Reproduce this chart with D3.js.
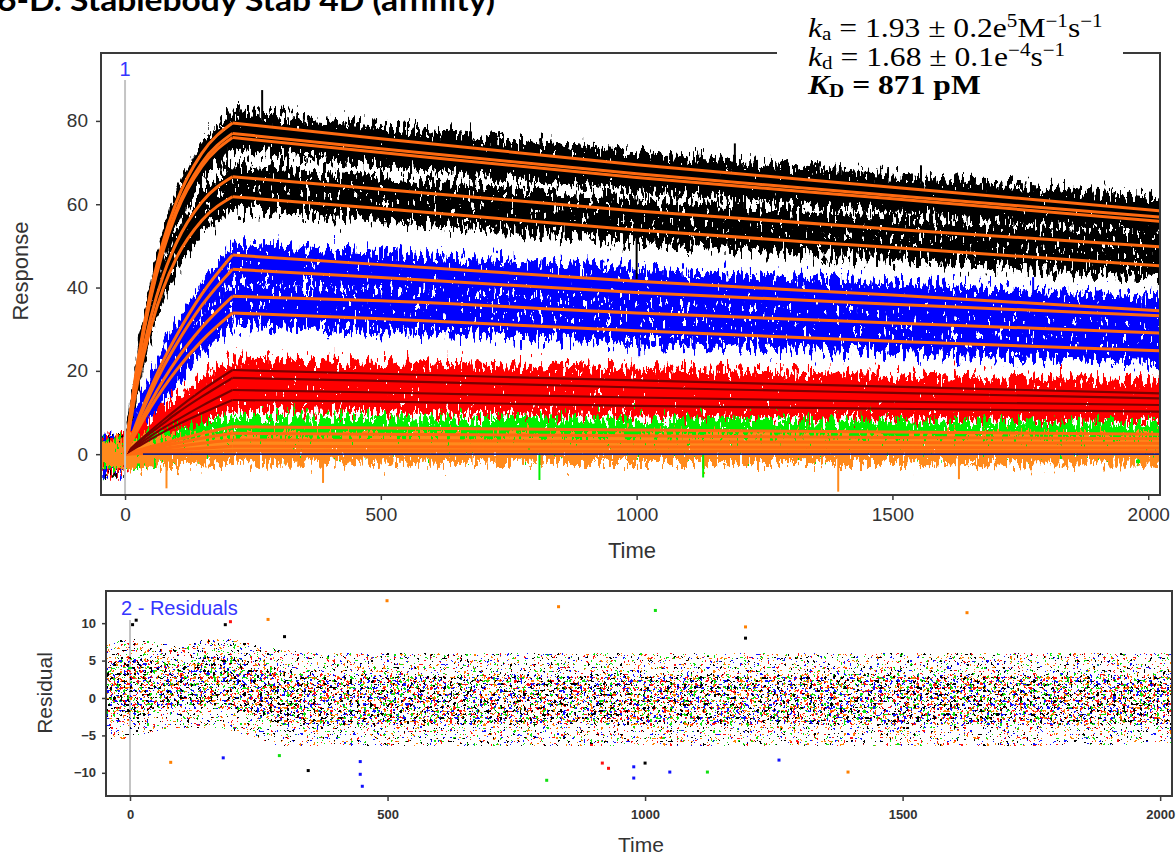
<!DOCTYPE html>
<html lang="en">
<head>
<meta charset="utf-8">
<title>Stab 4D affinity</title>
<script src="https://cdn.jsdelivr.net/npm/d3@7"></script>
<style>
  body { margin: 0; background: #fff; }
  svg { display: block; }
</style>
</head>
<body>
<script>

// page size
var w = 1176;
var h = 861;

// fitted curves, read at these times (association ends at 210 s)
var fitTimes = [0, 25, 50, 75, 100, 150, 210, 500, 1000, 1500, 2023];

var blackFits = [
  [0, 22.4, 39.0, 51.3, 60.4, 72.2, 79.5, 75.7, 69.5, 64.1, 58.4],
  [0, 21.7, 37.8, 49.7, 58.5, 69.9, 77.0, 73.3, 67.3, 62.1, 56.9],
  [0, 21.4, 37.3, 49.0, 57.8, 69.0, 76.0, 72.4, 66.4, 61.3, 55.9],
  [0, 18.8, 32.7, 43.0, 50.6, 60.5, 66.6, 63.6, 58.4, 54.0, 49.8],
  [0, 17.4, 30.3, 39.9, 47.0, 56.1, 61.8, 59.0, 53.8, 49.6, 45.2]
];
var blueFits = [
  [0, 8.3, 15.8, 22.5, 28.3, 38.4, 47.8, 45.5, 41.5, 38.2, 34.4],
  [0, 7.7, 14.7, 20.9, 26.3, 35.7, 44.4, 42.4, 38.8, 36.0, 33.2],
  [0, 6.6, 12.5, 17.8, 22.5, 30.4, 37.9, 36.8, 33.9, 31.5, 29.1],
  [0, 5.9, 11.2, 15.9, 20.1, 27.2, 33.9, 32.5, 29.6, 27.1, 24.8]
];
var redFits = [
  [0, 2.9, 5.6, 8.2, 10.7, 15.3, 20.2, 19.3, 17.7, 16.2, 14.6],
  [0, 2.6, 5.1, 7.4, 9.7, 13.8, 18.3, 17.6, 16.0, 14.7, 13.4],
  [0, 2.2, 4.3, 6.3, 8.1, 11.6, 15.4, 14.8, 13.6, 12.6, 11.8],
  [0, 1.8, 3.6, 5.3, 6.9, 9.8, 13.0, 12.6, 11.6, 10.9, 10.2]
];
var greenFits = [
  [0, 0.9, 1.8, 2.6, 3.4, 5.0, 6.6, 6.3, 5.8, 5.3, 4.8],
  [0, 0.7, 1.4, 2.0, 2.6, 3.8, 5.0, 4.8, 4.4, 4.0, 3.7],
  [0, 0.5, 0.9, 1.4, 1.8, 2.6, 3.4, 3.3, 3.0, 2.8, 2.6]
];
var orangeFits = [
  [0, 0.3, 0.5, 0.8, 1.0, 1.4, 1.9, 1.8, 1.7, 1.6, 1.5],
  [0, 0.1, 0.2, 0.3, 0.4, 0.6, 0.8, 0.8, 0.7, 0.7, 0.6]
];

// concentrations in drawing order, with the noise half width of each (response units)
var groupNames = ["black", "blue", "red", "green", "orange"];
var groupNoise = [3.0, 3.0, 2.8, 2.4, 2.6];

// single spikes in the sensorgram: time, low, high, concentration
var dataSpikes = [
  [268, 80, 87.4, "black"], [1000, 42, 52, "black"], [1192, 68, 74.6, "black"],
  [1005, 23.5, 30, "blue"], [1775, 36, 42.5, "blue"],
  [81, -8.2, 0, "orange"], [387, -6.9, 0, "orange"], [1394, -9, 0, "orange"],
  [1630, -6, 0, "orange"], [810, -6.2, 0, "green"], [1130, -5.6, 0, "green"]
];

// flat blank line
var blankTimes = [35, 2023];
var blankValues = [0, 0];

// residual cloud: dense core and sparse outer envelope
var resTimes = [-47, 0, 50, 100, 150, 200, 250, 300, 400, 600, 1000, 1400, 1800, 2023];
var resCoreUpper = [4, 5.5, 5, 4.5, 5.5, 5.5, 4.5, 3.5, 3, 3, 3, 3, 3, 3];
var resCoreLower = [-2.5, -2.5, -1.5, -1, -1, -1.5, -2.5, -3.5, -3.5, -3.5, -3.5, -3.5, -3.5, -3.5];
var resUpper = [7, 8, 7.5, 7, 8, 8, 7, 6.5, 6, 6, 6, 6, 6, 6];
var resLower = [-5.5, -5.5, -4.5, -4, -4, -4.5, -5.5, -6.5, -6.5, -6.5, -6.5, -6.5, -6.5, -6];

// residual outliers: time, residual, concentration
var resOutliers = [
  [499, 13, "orange"], [832, 12.2, "orange"], [1020, 11.7, "green"], [1625, 11.4, "orange"],
  [5, 9.8, "black"], [12, 10.4, "black"], [185, 9.8, "black"], [195, 10.2, "red"],
  [268, 10.5, "orange"], [300, 8.2, "black"], [1195, 9.5, "orange"], [1195, 8, "black"],
  [451, -11.8, "blue"], [447, -10.2, "blue"], [447, -8.5, "blue"], [346, -9.7, "black"],
  [809, -11, "green"], [917, -8.7, "red"], [929, -9.4, "red"], [978, -10.7, "blue"],
  [978, -9.2, "blue"], [1000, -8.7, "black"], [1048, -9.9, "blue"], [1121, -9.9, "green"],
  [1394, -9.9, "orange"], [1260, -8.3, "blue"], [79, -8.6, "orange"], [181, -8, "blue"],
  [290, -7.7, "green"]
];

// tick labels
var timeTicks = [0, 500, 1000, 1500, 2000];
var responseTicks = [0, 20, 40, 60, 80];
var residualTicks = [-10, -5, 0, 5, 10];

var fitsByGroup = { black: blackFits, blue: blueFits, red: redFits, green: greenFits, orange: orangeFits };

var dataColors = { black: "#000000", blue: "#0000ff", red: "#ff0000", green: "#00f000", orange: "#ff8a1c" };
var fitColors = { black: "#ff6a10", blue: "#ff6a10", red: "#7a0000", green: "#ff6a10", orange: "#ff6a10" };
var resColors = { black: "#000000", blue: "#1010ff", red: "#ff1010", green: "#10e010", orange: "#ff8000" };

// scales
var xTop = d3.scaleLinear().domain([-47, 2023]).range([101, 1160]);
var yTop = d3.scaleLinear().domain([-9.8, 96.3]).range([495, 53]);
var xRes = d3.scaleLinear().domain([-46.6, 2023]).range([106, 1172]);
var yRes = d3.scaleLinear().domain([-13.1, 14.3]).range([796, 591]);

var svg = d3.select("body")
  .append("svg")
  .attr("width", w)
  .attr("height", h)
  .style("font-family", "'Liberation Sans', Arial, sans-serif");

var defs = svg.append("defs");

defs.append("clipPath").attr("id", "clipTop")
  .append("rect").attr("x", 102).attr("y", 54).attr("width", 1057).attr("height", 440);
defs.append("clipPath").attr("id", "clipRes")
  .append("rect").attr("x", 107).attr("y", 592).attr("width", 1064).attr("height", 203);

// jagged edges and small holes for the noisy traces
function jagFilter(id, seed) {
  var f = defs.append("filter").attr("id", id)
    .attr("filterUnits", "userSpaceOnUse")
    .attr("x", 90).attr("y", 30).attr("width", 1090).attr("height", 480)
    .attr("color-interpolation-filters", "sRGB");
  f.append("feTurbulence").attr("type", "fractalNoise")
    .attr("baseFrequency", "0.3 0.07").attr("numOctaves", 2)
    .attr("seed", seed).attr("result", "t");
  f.append("feColorMatrix").attr("in", "t").attr("type", "matrix")
    .attr("values", "0 0 0 0 0.5  1 0 0 0 0  0 0 0 0 0  0 0 0 0 1")
    .attr("result", "d");
  f.append("feDisplacementMap").attr("in", "SourceGraphic").attr("in2", "d")
    .attr("scale", 42).attr("xChannelSelector", "R").attr("yChannelSelector", "G")
    .attr("result", "disp");
  f.append("feTurbulence").attr("type", "fractalNoise")
    .attr("baseFrequency", "0.35 0.12").attr("numOctaves", 1)
    .attr("seed", seed + 101).attr("result", "t2");
  f.append("feColorMatrix").attr("in", "t2").attr("type", "matrix")
    .attr("values", "0 0 0 0 0  0 0 0 0 0  0 0 0 0 0  6 0 0 0 -3.6")
    .attr("result", "h0");
  f.append("feComponentTransfer").attr("in", "h0").attr("result", "holes")
    .append("feFuncA").attr("type", "discrete").attr("tableValues", "0 1");
  f.append("feComposite").attr("in", "disp").attr("in2", "holes").attr("operator", "out");
}

// speckled dots for the residual cloud (density follows the fill opacity)
function speckFilter(id, seed, color) {
  var f = defs.append("filter").attr("id", id)
    .attr("filterUnits", "userSpaceOnUse")
    .attr("x", 100).attr("y", 585).attr("width", 1080).attr("height", 220)
    .attr("color-interpolation-filters", "sRGB");
  f.append("feTurbulence").attr("type", "fractalNoise")
    .attr("baseFrequency", "0.3").attr("numOctaves", 2)
    .attr("seed", seed).attr("result", "t");
  f.append("feColorMatrix").attr("in", "t").attr("type", "matrix")
    .attr("values", "0 0 0 0 0  0 0 0 0 0  0 0 0 0 0  1.5 0 0 0 -0.13")
    .attr("result", "ta");
  f.append("feComposite").attr("in", "ta").attr("in2", "SourceAlpha")
    .attr("operator", "arithmetic").attr("k1", 1).attr("k2", 0).attr("k3", 0).attr("k4", 0)
    .attr("result", "p");
  f.append("feComponentTransfer").attr("in", "p").attr("result", "m")
    .append("feFuncA").attr("type", "discrete").attr("tableValues", "0 0 0 0 0 0 1");
  f.append("feFlood").attr("flood-color", color).attr("result", "c");
  f.append("feComposite").attr("in", "c").attr("in2", "m").attr("operator", "in");
}

// ---------- top panel: sensorgram ----------

var topPlot = svg.append("g").attr("clip-path", "url(#clipTop)");

var seed = 1;
groupNames.forEach(function(g, gi) {
  var hw = groupNoise[gi];
  fitsByGroup[g].forEach(function(fit) {
    var pts = [[-47, 0]].concat(fitTimes.map(function(t, i) { return [t, fit[i]]; }));
    var id = "jag" + seed;
    jagFilter(id, seed * 7 + 3);
    seed++;
    topPlot.append("path")
      .datum(pts)
      .attr("fill", dataColors[g])
      .attr("filter", "url(#" + id + ")")
      .attr("d", d3.area()
        .x(function(d) { return xTop(d[0]); })
        .y0(function(d) { return yTop(d[1] - hw); })
        .y1(function(d) { return yTop(d[1] + hw); }));
  });
});

topPlot.selectAll("line.spike")
  .data(dataSpikes)
  .enter()
  .append("line")
  .attr("class", "spike")
  .attr("x1", function(d) { return xTop(d[0]); })
  .attr("x2", function(d) { return xTop(d[0]); })
  .attr("y1", function(d) { return yTop(d[1]); })
  .attr("y2", function(d) { return yTop(d[2]); })
  .attr("stroke", function(d) { return dataColors[d[3]]; })
  .attr("stroke-width", 2);

var fitLine = d3.line()
  .x(function(d) { return xTop(d[0]); })
  .y(function(d) { return yTop(d[1]); })
  .curve(d3.curveMonotoneX);

groupNames.slice().reverse().forEach(function(g) {
  fitsByGroup[g].forEach(function(fit) {
    var pts = fitTimes.map(function(t, i) { return [t, fit[i]]; });
    [pts.slice(0, 7), pts.slice(6)].forEach(function(part) {
      topPlot.append("path")
        .datum(part)
        .attr("fill", "none")
        .attr("stroke", fitColors[g])
        .attr("stroke-width", g === "red" ? 2.2 : 3)
        .attr("d", fitLine);
    });
  });
});

topPlot.append("path")
  .datum(blankTimes.map(function(t, i) { return [t, blankValues[i]]; }))
  .attr("fill", "none")
  .attr("stroke", "#1c1c7a")
  .attr("stroke-width", 1.6)
  .attr("d", d3.line().x(function(d) { return xTop(d[0]); }).y(function(d) { return yTop(d[1]); }));

// injection marker
svg.append("line")
  .attr("x1", xTop(0)).attr("x2", xTop(0))
  .attr("y1", 80).attr("y2", 494)
  .attr("stroke", "#c4c4c4").attr("stroke-width", 2);
svg.append("text")
  .attr("x", xTop(0)).attr("y", 76)
  .attr("text-anchor", "middle")
  .attr("font-size", 20)
  .attr("fill", "#3535ff")
  .text("1");

// frame and axes
svg.append("rect")
  .attr("x", 101).attr("y", 53).attr("width", 1059).attr("height", 442)
  .attr("fill", "none").attr("stroke", "#3a3a3a").attr("stroke-width", 2);

var axTopX = svg.append("g")
  .attr("transform", "translate(0,495)")
  .call(d3.axisBottom(xTop).tickValues(timeTicks).tickSize(5).tickPadding(8).tickFormat(d3.format("d")));
var axTopY = svg.append("g")
  .attr("transform", "translate(101,0)")
  .call(d3.axisLeft(yTop).tickValues(responseTicks).tickSize(5).tickPadding(8));

[axTopX, axTopY].forEach(function(ax) {
  ax.select(".domain").remove();
  ax.selectAll("line").attr("stroke", "#3a3a3a").attr("stroke-width", 1.5);
  ax.selectAll("text").attr("font-size", 19).attr("fill", "#333")
    .attr("font-family", "'Liberation Sans', Arial, sans-serif");
});

svg.append("text")
  .attr("transform", "translate(28,271) rotate(-90)")
  .attr("text-anchor", "middle")
  .attr("font-size", 22)
  .attr("fill", "#333")
  .text("Response");
svg.append("text")
  .attr("x", 632).attr("y", 558)
  .attr("text-anchor", "middle")
  .attr("font-size", 22)
  .attr("fill", "#333")
  .text("Time");

// ---------- bottom panel: residuals ----------

var resPlot = svg.append("g").attr("clip-path", "url(#clipRes)");

resPlot.append("line")
  .attr("x1", xRes(0)).attr("x2", xRes(0))
  .attr("y1", 620).attr("y2", 796)
  .attr("stroke", "#c4c4c4").attr("stroke-width", 2);

var resOuterPts = resTimes.map(function(t, i) { return [t, resUpper[i], resLower[i]]; });
var resCorePts = resTimes.map(function(t, i) { return [t, resCoreUpper[i], resCoreLower[i]]; });

var resBand = d3.area()
  .x(function(d) { return xRes(d[0]); })
  .y0(function(d) { return yRes(d[2]); })
  .y1(function(d) { return yRes(d[1]); })
  .curve(d3.curveMonotoneX);

["orange", "green", "red", "blue", "black"].forEach(function(g, gi) {
  var id = "speck" + g;
  speckFilter(id, 11 + gi * 13, resColors[g]);
  var cloud = resPlot.append("g").attr("filter", "url(#" + id + ")");
  cloud.append("path")
    .datum(resOuterPts)
    .attr("fill", "#000")
    .attr("fill-opacity", 0.9)
    .attr("d", resBand);
  cloud.append("path")
    .datum(resCorePts)
    .attr("fill", "#000")
    .attr("d", resBand);
});

resPlot.selectAll("rect.outlier")
  .data(resOutliers)
  .enter()
  .append("rect")
  .attr("class", "outlier")
  .attr("x", function(d) { return xRes(d[0]) - 1.5; })
  .attr("y", function(d) { return yRes(d[1]) - 1.5; })
  .attr("width", 3)
  .attr("height", 3)
  .attr("fill", function(d) { return resColors[d[2]]; });

svg.append("rect")
  .attr("x", 106).attr("y", 591).attr("width", 1066).attr("height", 205)
  .attr("fill", "none").attr("stroke", "#3a3a3a").attr("stroke-width", 2);

var axResX = svg.append("g")
  .attr("transform", "translate(0,796)")
  .call(d3.axisBottom(xRes).tickValues(timeTicks).tickSize(5).tickPadding(9).tickFormat(d3.format("d")));
var axResY = svg.append("g")
  .attr("transform", "translate(106,0)")
  .call(d3.axisLeft(yRes).tickValues(residualTicks).tickSize(4).tickPadding(6));

[axResX, axResY].forEach(function(ax) {
  ax.select(".domain").remove();
  ax.selectAll("line").attr("stroke", "#3a3a3a").attr("stroke-width", 1.5);
  ax.selectAll("text").attr("font-size", 13).attr("font-weight", "bold").attr("fill", "#333")
    .attr("font-family", "'Liberation Sans', Arial, sans-serif");
});

svg.append("text")
  .attr("x", 121).attr("y", 615)
  .attr("font-size", 20)
  .attr("fill", "#3535ff")
  .text("2 - Residuals");

svg.append("text")
  .attr("transform", "translate(52,693) rotate(-90)")
  .attr("text-anchor", "middle")
  .attr("font-size", 21)
  .attr("fill", "#333")
  .text("Residual");
svg.append("text")
  .attr("x", 641).attr("y", 852)
  .attr("text-anchor", "middle")
  .attr("font-size", 21)
  .attr("fill", "#333")
  .text("Time");

// ---------- title and fit constants ----------

svg.append("text")
  .attr("x", -3).attr("y", 11)
  .attr("font-family", "Lato, 'Open Sans', sans-serif")
  .attr("font-weight", "bold")
  .attr("font-size", 30)
  .attr("textLength", 498)
  .attr("lengthAdjust", "spacingAndGlyphs")
  .text("6-D. Stablebody Stab 4D (affinity)");

svg.append("rect")
  .attr("x", 777).attr("y", 0).attr("width", 346).attr("height", 104)
  .attr("fill", "#fff");

var note = svg.append("g")
  .attr("transform", "translate(808,0) scale(1.17,1)")
  .attr("font-family", "'Liberation Serif', 'Times New Roman', serif")
  .attr("fill", "#000");

function addLine(y, parts, bold) {
  var t = note.append("text").attr("x", 0).attr("y", y)
    .attr("font-weight", bold ? "bold" : "normal");
  var shift = 0;
  parts.forEach(function(p) {
    var dy = 0, size = 27;
    if (p[1] === "sub") { dy = 3 - shift; shift = 3; size = 18; }
    else if (p[1] === "sup") { dy = -10 - shift; shift = -10; size = 18; }
    else { dy = -shift; shift = 0; }
    t.append("tspan")
      .attr("dy", dy)
      .attr("font-size", size)
      .attr("font-style", p[1] === "it" ? "italic" : null)
      .text(p[0]);
  });
}

addLine(37, [["k", "it"], ["a", "sub"], [" = 1.93 \u00b1 0.2e", ""], ["5", "sup"], ["M", ""], ["\u22121", "sup"], ["s", ""], ["\u22121", "sup"]], false);
addLine(66, [["k", "it"], ["d", "sub"], [" = 1.68 \u00b1 0.1e", ""], ["\u22124", "sup"], ["s", ""], ["\u22121", "sup"]], false);
addLine(94, [["K", "it"], ["D", "sub"], [" = 871 pM", ""]], true);

</script>
</body>
</html>
